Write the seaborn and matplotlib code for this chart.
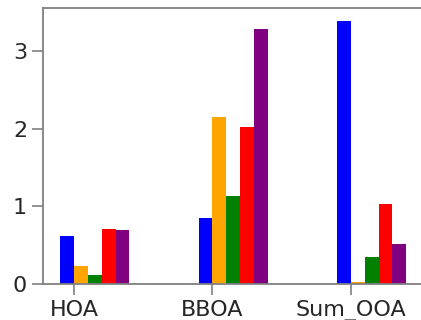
import matplotlib
matplotlib.use("Agg")
import matplotlib.pyplot as plt
import seaborn as sns
import pandas as pd

# Factor categories and per-series concentrations
factors = ["HOA", "BBOA", "Sum_OOA"]
series = ["A", "B", "C", "D", "E"]
colors = ["blue", "orange", "green", "red", "purple"]

vals_a = [0.62, 0.85, 3.39]
vals_b = [0.23, 2.16, 0.02]
vals_c = [0.11, 1.13, 0.35]
vals_d = [0.715, 2.03, 1.03]
vals_e = [0.70, 3.29, 0.51]

rows = []
for name, vals in zip(series, [vals_a, vals_b, vals_c, vals_d, vals_e]):
    for f, v in zip(factors, vals):
        rows.append({"factor": f, "series": name, "value": v})
df = pd.DataFrame(rows)

sns.set_style("white")
fig = plt.figure(figsize=(4.21, 3.20), dpi=100)
ax = fig.add_axes([43 / 421, 36 / 320, (423.5 - 43) / 421, (284 - 8) / 320])

sns.barplot(data=df, x="factor", y="value", hue="series", order=factors,
            hue_order=series, palette=colors, width=0.5, saturation=1,
            errorbar=None, linewidth=0, legend=False, ax=ax)

ax.set_xlim(-0.375, 2.375)
ax.set_ylim(0, max(vals_a) * 1.05)
ax.set_xticks([i - 0.15 for i in range(len(factors))])
ax.set_xticklabels(factors)
ax.set_yticks([0, 1, 2, 3])
ax.set_xlabel("")
ax.set_ylabel("")

for s in ax.spines.values():
    s.set_color("#808080")
    s.set_linewidth(1.3)
ax.tick_params(axis="both", which="both", length=8, width=1.2, color="#808080",
               labelsize=16, labelcolor="#262626", bottom=True, left=True)

fig.savefig("out.png", dpi=100)
